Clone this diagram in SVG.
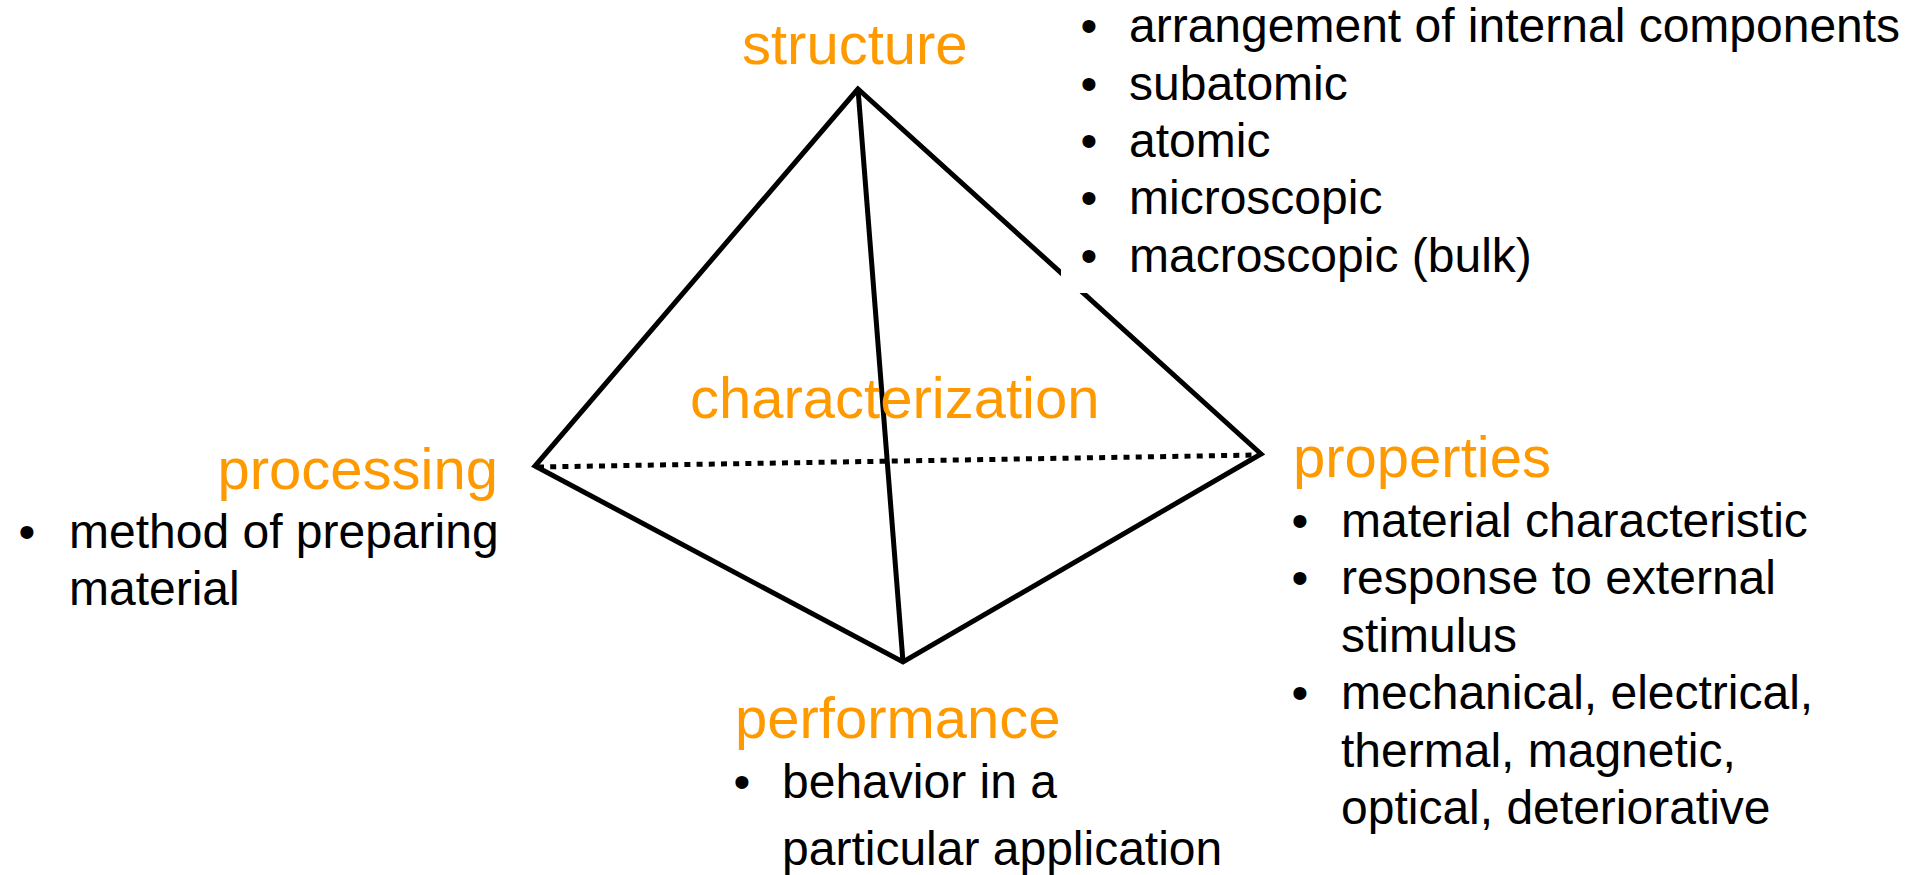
<svg xmlns="http://www.w3.org/2000/svg" width="1907" height="875" viewBox="0 0 1907 875">
  <style>
    .title { font-family: "Liberation Sans", Arial, sans-serif; font-size: 58px; fill: #FF9900; }
    .item { font-family: "Liberation Sans", Arial, sans-serif; font-size: 48px; fill: #000000; }
    .edge { fill: none; stroke: #000000; stroke-width: 5; stroke-linejoin: miter; stroke-linecap: butt; }
    .hidden-edge { fill: none; stroke: #000000; stroke-width: 5; stroke-dasharray: 6 6.2; }
  </style>
  <rect width="1907" height="875" fill="#FFFFFF"/>

  <!-- tetrahedron edges -->
  <g id="connectors">
    <path class="hidden-edge" d="M538,467 L1258,455"/>
    <path class="edge" d="M858,89 L535,466 L903,662 L1261,454 Z"/>
    <path class="edge" d="M858,89 L903,662"/>
  </g>

  <!-- centre label -->
  <g id="characterization">
    <text class="title" x="690" y="418">characterization</text>
  </g>

  <!-- top vertex -->
  <g id="structure">
    <text class="title" x="742" y="64">structure</text>
    <rect x="1061" y="0" width="846" height="293" fill="#FFFFFF"/>
    <text class="item" x="1080.6" y="42">•</text>
    <text class="item" x="1129" y="42">arrangement of internal components</text>
    <text class="item" x="1080.6" y="100">•</text>
    <text class="item" x="1129" y="100">subatomic</text>
    <text class="item" x="1080.6" y="157">•</text>
    <text class="item" x="1129" y="157">atomic</text>
    <text class="item" x="1080.6" y="214">•</text>
    <text class="item" x="1129" y="214">microscopic</text>
    <text class="item" x="1080.6" y="272">•</text>
    <text class="item" x="1129" y="272">macroscopic (bulk)</text>
  </g>

  <!-- left vertex -->
  <g id="processing">
    <text class="title" x="498" y="489" text-anchor="end">processing</text>
    <text class="item" x="18.5" y="548">•</text>
    <text class="item" x="69" y="548">method of preparing</text>
    <text class="item" x="69" y="605">material</text>
  </g>

  <!-- right vertex -->
  <g id="properties">
    <text class="title" x="1293" y="477">properties</text>
    <text class="item" x="1291.6" y="537">•</text>
    <text class="item" x="1341" y="537">material characteristic</text>
    <text class="item" x="1291.6" y="594">•</text>
    <text class="item" x="1341" y="594">response to external</text>
    <text class="item" x="1341" y="652">stimulus</text>
    <text class="item" x="1291.6" y="709">•</text>
    <text class="item" x="1341" y="709">mechanical, electrical,</text>
    <text class="item" x="1341" y="767">thermal, magnetic,</text>
    <text class="item" x="1341" y="824">optical, deteriorative</text>
  </g>

  <!-- bottom vertex -->
  <g id="performance">
    <text class="title" x="735" y="738">performance</text>
    <text class="item" x="733.6" y="798">•</text>
    <text class="item" x="782" y="798">behavior in a</text>
    <text class="item" x="782" y="865">particular application</text>
  </g>
</svg>
